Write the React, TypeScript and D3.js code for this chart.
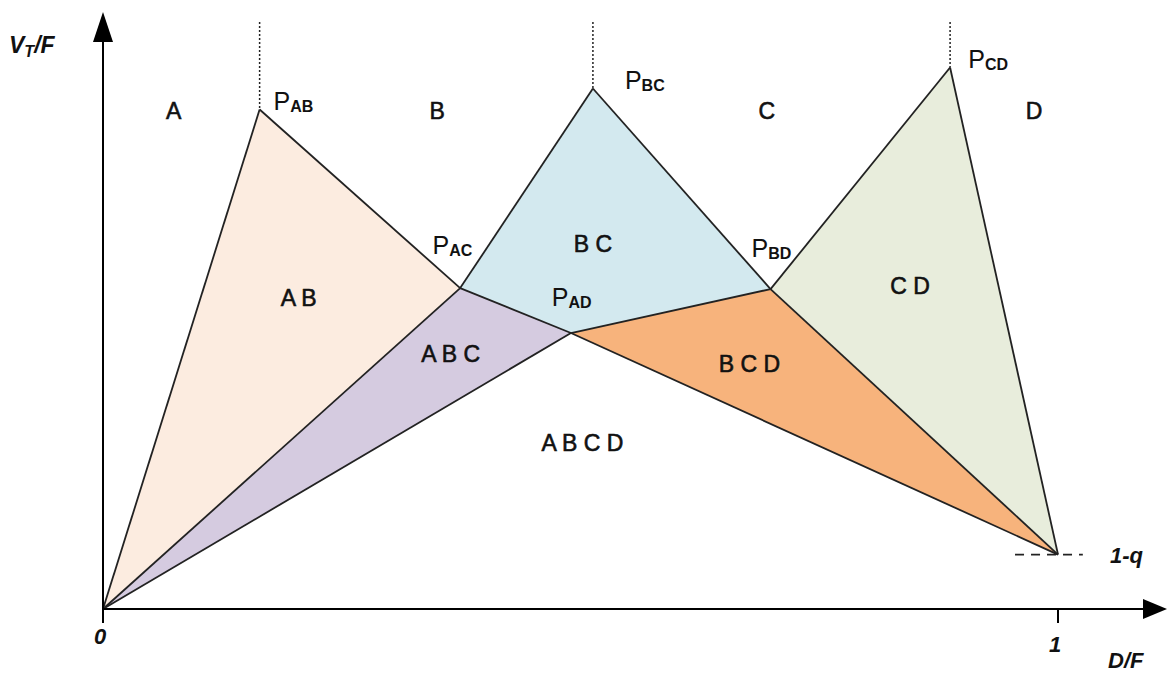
import React from 'react';
import * as d3 from 'd3';

// corner points of the diagram, in D/F and V_T/F units
const pointNames = ['O', 'PAB', 'PAC', 'PBC', 'PAD', 'PBD', 'PCD', 'Q'];
const pointX = [0, 0.164, 0.374, 0.513, 0.490, 0.699, 0.887, 1];
const pointY = [0, 0.523, 0.336, 0.545, 0.289, 0.335, 0.567, 0.057];

// shaded regions
const regionNames = ['AB', 'ABC', 'BC', 'BCD', 'CD'];
const regionVertices = [
  ['O', 'PAB', 'PAC'],
  ['O', 'PAC', 'PAD'],
  ['PAC', 'PBC', 'PBD', 'PAD'],
  ['PAD', 'PBD', 'Q'],
  ['PBD', 'PCD', 'Q'],
];

// boundary segments
const edges = [
  ['O', 'PAB'], ['PAB', 'PAC'], ['PAC', 'PBC'], ['PBC', 'PBD'], ['PBD', 'PCD'], ['PCD', 'Q'],
  ['O', 'PAC'], ['O', 'PAD'], ['PAC', 'PAD'], ['PAD', 'PBD'], ['PAD', 'Q'], ['PBD', 'Q'],
];

// dotted lines go up from the peaks
const peakNames = ['PAB', 'PBC', 'PCD'];

// region labels
const labelText = ['A', 'B', 'C', 'D', 'A B', 'B C', 'A B C', 'B C D', 'C D', 'A B C D'];
const labelX = [0.074, 0.350, 0.695, 0.975, 0.205, 0.513, 0.364, 0.677, 0.845, 0.502];
const labelY = [0.522, 0.522, 0.522, 0.522, 0.326, 0.383, 0.267, 0.257, 0.338, 0.174];

// point labels (P with subscript)
const pLabelSub = ['AB', 'BC', 'CD', 'AC', 'AD', 'BD'];
const pLabelX = [0.1785, 0.5465, 0.906, 0.345, 0.470, 0.679];
const pLabelY = [0.522, 0.545, 0.567, 0.372, 0.317, 0.369];

const xTicks = [0, 1];
const qLevel = 0.057;

const fills: Record<string, string> = {
  AB: '#fcece0',
  ABC: '#d5cbe0',
  BC: '#d3e9ef',
  BCD: '#f7b37c',
  CD: '#e8eddc',
};

export default function App() {
  const width = 1170;
  const height = 676;
  const x0 = 103;
  const y0 = 609;
  const unit = 955;

  const x = d3.scaleLinear().domain([0, 1]).range([x0, x0 + unit]);
  const y = d3.scaleLinear().domain([0, 1]).range([y0, y0 - unit]);

  const pt = (name: string): [number, number] => {
    const i = pointNames.indexOf(name);
    return [x(pointX[i]), y(pointY[i])];
  };

  const line = d3.line();
  const font = '"Liberation Sans", Arial, sans-serif';

  return (
    <svg width={width} height={height} style={{ position: 'absolute', left: 0, top: 0, background: '#fff' }}>
      {regionNames.map((r, i) => (
        <path key={r} d={line(regionVertices[i].map(pt)) + 'Z'} fill={fills[r]} stroke="none" />
      ))}
      {edges.map(([a, b], i) => (
        <path key={i} d={line([pt(a), pt(b)]) || ''} stroke="#222" strokeWidth={1.8} fill="none" />
      ))}
      {peakNames.map(n => {
        const [px, py] = pt(n);
        return <line key={n} x1={px} x2={px} y1={22} y2={py} stroke="#222" strokeWidth={1.5} strokeDasharray="2,2" />;
      })}

      {/* 1-q dashed level */}
      <line x1={x(0.955)} x2={x(1.026)} y1={y(qLevel)} y2={y(qLevel)} stroke="#222" strokeWidth={1.8} strokeDasharray="9,7" />

      {/* axes */}
      <line x1={x0} x2={x0} y1={623} y2={40} stroke="#000" strokeWidth={2} />
      <path d={`M${x0 - 10},42 L${x0},12 L${x0 + 10},42 Z`} fill="#000" />
      <line x1={x0} x2={1145} y1={y0} y2={y0} stroke="#000" strokeWidth={2} />
      <path d={`M1143,${y0 - 10} L1167,${y0} L1143,${y0 + 10} Z`} fill="#000" />
      {xTicks.map(t => (
        <g key={t}>
          {t > 0 && <line x1={x(t)} x2={x(t)} y1={y0} y2={623} stroke="#000" strokeWidth={2} />}
          <text x={x(t) - 3} y={t === 0 ? 644 : 652} fontFamily={font} fontSize={22} fontWeight="bold" fontStyle="italic" textAnchor="middle" fill="#111">{t}</text>
        </g>
      ))}
      <text x={1110} y={y(qLevel) + 8} fontFamily={font} fontSize={22} fontWeight="bold" fontStyle="italic" fill="#111">1-q</text>
      <text x={1108} y={668} fontFamily={font} fontSize={22} fontWeight="bold" fontStyle="italic" fill="#111">D/F</text>
      <text x={9} y={53} fontFamily={font} fontSize={23} fontWeight="bold" fontStyle="italic" fill="#111">
        V<tspan fontSize={16} dy={4}>T</tspan><tspan dy={-4}>/F</tspan>
      </text>

      {labelText.map((t, i) => (
        <text key={i} x={x(labelX[i])} y={y(labelY[i])} dy="0.36em" textAnchor="middle" fontFamily={font} fontSize={23} fill="#111" stroke="#111" strokeWidth={0.6}>
          {t}
        </text>
      ))}
      {pLabelSub.map((s, i) => (
        <text key={s} x={x(pLabelX[i])} y={y(pLabelY[i])} fontFamily={font} fontSize={25} fill="#111">
          P<tspan fontSize={16} fontWeight="bold" dy={2}>{s}</tspan>
        </text>
      ))}
    </svg>
  );
}
